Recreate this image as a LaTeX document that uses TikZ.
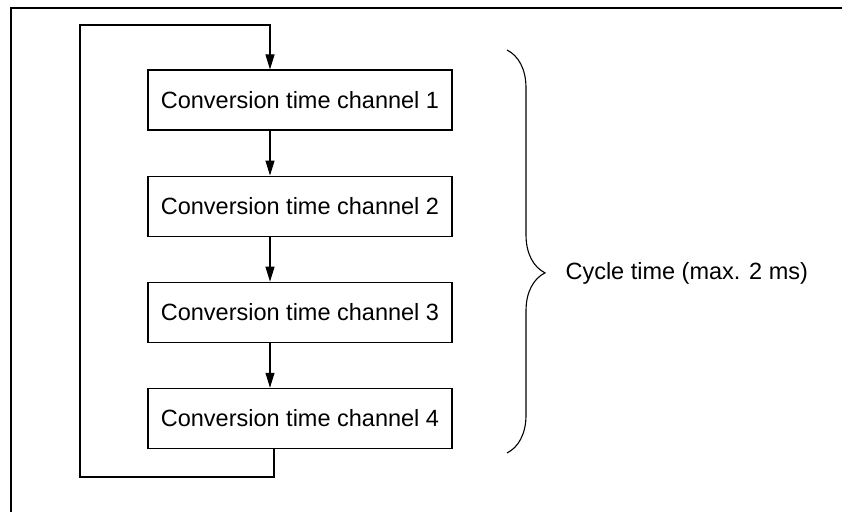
\documentclass[tikz,border=0pt]{standalone}
\usepackage{fontspec}
\setmainfont{Liberation Sans}
\usetikzlibrary{positioning, arrows.meta, decorations.pathreplacing}

\begin{document}
\begin{tikzpicture}[
  x=1pt, y=1pt,
  font=\fontsize{23.5}{28}\selectfont,
  chanbox/.style={draw, line width=1.1pt, minimum width=304pt, minimum height=60pt,
    inner sep=0pt, align=center},
  flow/.style={line width=1.1pt, -{Triangle[length=15pt, width=9pt]}},
  wire/.style={line width=1.1pt},
  node distance=45pt
]
\useasboundingbox (0,0) rectangle (842,512);

% outer frame
\draw[wire] (11,0) -- (11,504) -- (842,504);

% conversion chain
\node[chanbox] (b1) at (300,412) {Conversion time channel 1};
\node[chanbox, below=of b1] (b2) {Conversion time channel 2};
\node[chanbox, below=of b2] (b3) {Conversion time channel 3};
\node[chanbox, below=of b3] (b4) {Conversion time channel 4};

\draw[flow] ([xshift=-30pt]b1.south) -- ([xshift=-30pt]b2.north);
\draw[flow] ([xshift=-30pt]b2.south) -- ([xshift=-30pt]b3.north);
\draw[flow] ([xshift=-30pt]b3.south) -- ([xshift=-30pt]b4.north);

% loop back
\coordinate (lb) at (80,35);
\coordinate (lt) at (80,487);
\draw[flow] ([xshift=-26pt]b4.south) |- (lb) -- (lt) -| ([xshift=-30pt]b1.north);

% cycle brace
\coordinate (bt) at (507,462);
\coordinate (bb) at (507,59);
\draw[wire, decorate, decoration={brace, amplitude=38pt, aspect=0.553}] (bt) -- (bb);
\node[anchor=west] (cyc) at (562,239) {Cycle time (max. 2 ms)};

\end{tikzpicture}
\end{document}
